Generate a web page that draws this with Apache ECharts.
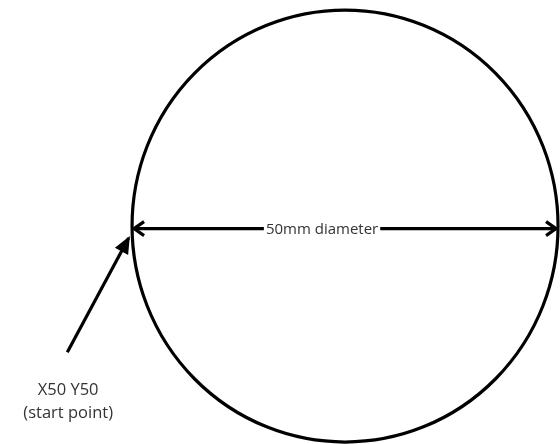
<!DOCTYPE html>
<html>
<head>
<meta charset="utf-8">
<script src="https://cdn.jsdelivr.net/npm/echarts@6/dist/echarts.min.js"></script>
<style>html,body{margin:0;padding:0;background:#fff}#c{width:560px;height:444px}</style>
</head>
<body>
<div id="c"></div>
<script>
// Geometry in millimetres
var circleCenter = [75, 50];
var circleRadius = 25;
var diameterLine = [[50, 49.7], [100, 49.7]];
var diameterLabel = '50mm diameter';
var diameterLabelPos = [72.3, 49.6];
var leaderLine = [[42.4, 35.4], [49.6, 48.6]];
var startLabelLines = ['X50 Y50', '(start point)'];
var startLabelPos = [[42.5, 31.0], [42.5, 28.3]];

var chart = echarts.init(document.getElementById('c'), null, {renderer: 'canvas'});
var INK = '#000';

function chevron(api, tip, from, len, w) {
  var dx = tip[0] - from[0], dy = tip[1] - from[1];
  var L = Math.sqrt(dx * dx + dy * dy); dx /= L; dy /= L;
  var bx = tip[0] - dx * len, by = tip[1] - dy * len;
  return [[bx - dy * w, by + dx * w], tip, [bx + dy * w, by - dx * w]];
}

var option = {
  animation: false,
  backgroundColor: '#fff',
  grid: {left: 0, right: 0, top: 0, bottom: 0},
  xAxis: {type: 'value', min: 34.5, max: 100.23, show: false},
  yAxis: {type: 'value', min: 24.77, max: 76.16, show: false},
  series: [
    {
      type: 'custom',
      silent: true,
      data: [[circleCenter[0], circleCenter[1], circleRadius]],
      renderItem: function (params, api) {
        var c = api.coord([api.value(0), api.value(1)]);
        var s = api.size([api.value(2), api.value(2)]);
        return {
          type: 'circle',
          x: c[0], y: c[1],
          scaleY: s[1] / s[0],
          shape: {cx: 0, cy: 0, r: s[0]},
          style: {fill: null, stroke: INK, lineWidth: 3.2}
        };
      }
    },
    {
      type: 'custom',
      silent: true,
      data: [[diameterLine[0][0], diameterLine[0][1], diameterLine[1][0], diameterLine[1][1]]],
      renderItem: function (params, api) {
        var a = api.coord([api.value(0), api.value(1)]);
        var b = api.coord([api.value(2), api.value(3)]);
        a = [a[0] + 2, a[1]]; b = [b[0] - 2, b[1]];
        return {
          type: 'group',
          children: [
            {type: 'line', shape: {x1: a[0], y1: a[1], x2: b[0], y2: b[1]}, style: {stroke: INK, lineWidth: 3.2}},
            {type: 'polyline', shape: {points: chevron(api, a, b, 10, 7)}, style: {stroke: INK, lineWidth: 3.2, fill: null}},
            {type: 'polyline', shape: {points: chevron(api, b, a, 10, 7)}, style: {stroke: INK, lineWidth: 3.2, fill: null}}
          ]
        };
      }
    },
    {
      type: 'custom',
      silent: true,
      data: [[diameterLabelPos[0], diameterLabelPos[1]]],
      renderItem: function (params, api) {
        var p = api.coord([api.value(0), api.value(1)]);
        return {
          type: 'text', x: p[0], y: p[1],
          style: {
            text: diameterLabel, fill: '#333', font: '15px "Open Sans"',
            align: 'center', verticalAlign: 'middle',
            backgroundColor: '#fff', padding: [2, 2]
          }
        };
      }
    },
    {
      type: 'custom',
      silent: true,
      data: [[leaderLine[0][0], leaderLine[0][1], leaderLine[1][0], leaderLine[1][1]]],
      renderItem: function (params, api) {
        var a = api.coord([api.value(0), api.value(1)]);
        var b = api.coord([api.value(2), api.value(3)]);
        return {
          type: 'group',
          children: [
            {type: 'line', shape: {x1: a[0], y1: a[1], x2: b[0], y2: b[1]}, style: {stroke: INK, lineWidth: 3.2}},
            {type: 'polygon', shape: {points: chevron(api, b, a, 14, 6)}, style: {stroke: INK, lineWidth: 2, fill: INK}}
          ]
        };
      }
    },
    {
      type: 'custom',
      silent: true,
      data: startLabelPos.map(function (p, i) { return [p[0], p[1], i]; }),
      renderItem: function (params, api) {
        var p = api.coord([api.value(0), api.value(1)]);
        return {
          type: 'text', x: p[0], y: p[1],
          style: {
            text: startLabelLines[api.value(2)], fill: '#333', font: '16.5px "Open Sans"',
            align: 'center', verticalAlign: 'middle'
          }
        };
      }
    }
  ]
};
chart.setOption(option);
</script>
</body>
</html>
